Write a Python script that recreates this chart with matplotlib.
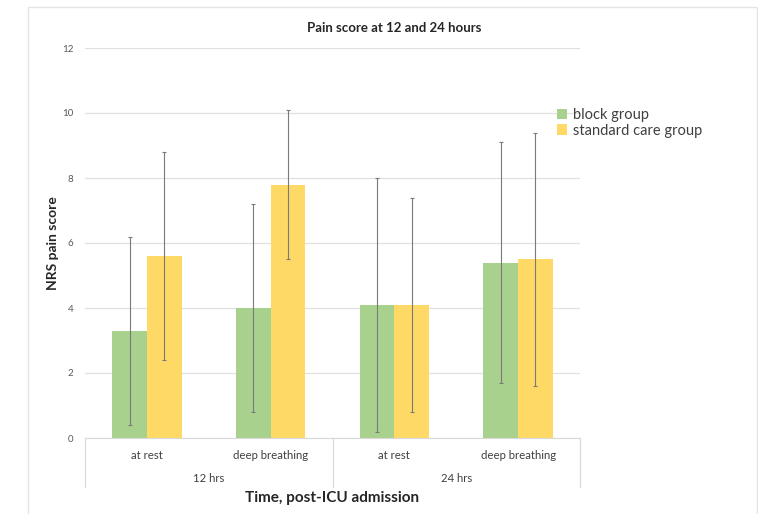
import numpy as np
from matplotlib import pyplot as plt
from matplotlib.patches import Rectangle

# data
subcats = ["at rest", "deep breathing", "at rest", "deep breathing"]
groups = ["12 hrs", "24 hrs"]
block_mean = [3.3, 4.0, 4.1, 5.4]
block_err = [2.9, 3.2, 3.9, 3.7]
std_mean = [5.6, 7.8, 4.1, 5.5]
std_err = [3.2, 2.3, 3.3, 3.9]

plt.rcParams["font.family"] = ["Lato", "DejaVu Sans"]

fig = plt.figure(figsize=(7.58, 5.14), dpi=100)
# faint outer chart frame
fig.patches.append(Rectangle((28 / 758, -0.01), 729 / 758, 1 - 7 / 514 + 0.01,
                             transform=fig.transFigure, fill=False,
                             edgecolor="#e4e4e4", linewidth=1.0))

ax = fig.add_axes([85 / 758, 1 - 438 / 514, 495 / 758, 390 / 514])

x = np.arange(len(subcats))
w = 0.28
err_kw = dict(ecolor="#7a7a7a", elinewidth=0.8, capsize=1.5, capthick=0.8)
ax.bar(x - w / 2, block_mean, w, yerr=block_err, color="#a9d18e",
       label="block group", error_kw=err_kw, zorder=2)
ax.bar(x + w / 2, std_mean, w, yerr=std_err, color="#ffd966",
       label="standard care group", error_kw=err_kw, zorder=2)

ax.set_xlim(-0.5, len(subcats) - 0.5)
ax.set_ylim(0, 12)
ax.set_yticks(np.arange(0, 13, 2))
ax.tick_params(axis="y", length=0, labelsize=7, labelcolor="#595959", pad=8.5)
ax.set_xticks([])
ax.grid(axis="y", color="#e0e0e0", linewidth=0.9, zorder=0)
ax.set_axisbelow(True)
for s in ["top", "right", "left"]:
    ax.spines[s].set_visible(False)
ax.spines["bottom"].set_color("#d9d9d9")

# multi-level category axis
trans = ax.get_xaxis_transform()
for i, lab in enumerate(subcats):
    ax.text(i, -0.045, lab, transform=trans, ha="center", va="center",
            fontsize=8.2, color="#404040")
per = len(subcats) // len(groups)
for g, lab in enumerate(groups):
    ax.text(g * per + (per - 1) / 2, -0.105, lab, transform=trans,
            ha="center", va="center", fontsize=8.2, color="#404040")
for b in range(len(groups) + 1):
    ax.plot([b * per - 0.5] * 2, [0, -0.125], transform=trans,
            color="#d9d9d9", linewidth=0.9, clip_on=False)

ax.text(0.5, -0.155, "Time, post-ICU admission", transform=ax.transAxes,
        ha="center", va="center", fontsize=11, fontweight="bold",
        color="#262626")
ax.set_ylabel("NRS pain score", fontsize=10, fontweight="bold",
              color="#262626", labelpad=2)
fig.text(394 / 758, 1 - 28 / 514, "Pain score at 12 and 24 hours",
         ha="center", va="center", fontsize=9.5, fontweight="bold",
         color="#262626")

fig.legend(loc="upper left", bbox_to_anchor=(544 / 758, 1 - 95 / 514),
           frameon=False, fontsize=10.5, handlelength=0.7, handleheight=0.7,
           handletextpad=0.4, labelspacing=0.1, labelcolor="#404040")

fig.savefig("out.png", dpi=100)
